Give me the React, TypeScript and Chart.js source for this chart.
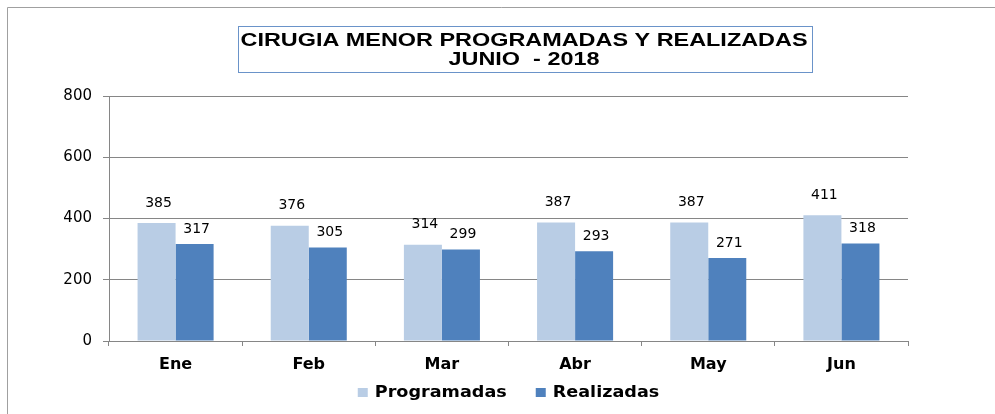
import React, { useEffect, useRef } from "react";
import { Chart, registerables } from "chart.js";

Chart.register(...registerables);

const categories = ["Ene", "Feb", "Mar", "Abr", "May", "Jun"];
const programadas = [385, 376, 314, 387, 387, 411];
const realizadas = [317, 305, 299, 293, 271, 318];
const seriesNames = ["Programadas", "Realizadas"];
const seriesColors = ["#B9CDE5", "#4F81BD"];
const titleLines = ["CIRUGIA MENOR PROGRAMADAS Y REALIZADAS", "JUNIO  - 2018"];
const yMin = 0;
const yMax = 800;
const yStep = 200;

const GRID = "#868686";

function drawStretched(ctx: CanvasRenderingContext2D, text: string, x: number, y: number, sx: number, align: CanvasTextAlign) {
  ctx.save();
  ctx.translate(x, y);
  ctx.scale(sx, 1);
  ctx.textAlign = align;
  ctx.fillText(text, 0, 0);
  ctx.restore();
}

const decorPlugin = {
  id: "decor",
  beforeDraw(chart: any) {
    const ctx: CanvasRenderingContext2D = chart.ctx;
    ctx.save();
    ctx.fillStyle = "#ffffff";
    ctx.fillRect(0, 0, chart.width, chart.height);
    ctx.strokeStyle = "#a0a0a0";
    ctx.lineWidth = 1;
    ctx.beginPath();
    ctx.moveTo(7.5, chart.height + 2);
    ctx.lineTo(7.5, 7.5);
    ctx.lineTo(chart.width + 2, 7.5);
    ctx.stroke();
    ctx.restore();
  },
  afterDraw(chart: any) {
    const ctx: CanvasRenderingContext2D = chart.ctx;
    const area = chart.chartArea;
    ctx.save();
    // title box
    ctx.strokeStyle = "#6a93c9";
    ctx.lineWidth = 1;
    ctx.strokeRect(238.5, 26.5, 574, 46);
    ctx.fillStyle = "#000";
    ctx.font = "bold 19px 'Liberation Sans', Arial, sans-serif";
    ctx.textBaseline = "middle";
    const w0 = ctx.measureText(titleLines[0]).width;
    const sx = 567 / w0;
    const cx = 524;
    drawStretched(ctx, titleLines[0], cx, 40.5, sx, "center");
    drawStretched(ctx, titleLines[1], cx, 59.5, sx, "center");

    // legend
    ctx.font = "bold 16px 'DejaVu Sans', sans-serif";
    const lsx = 1.1;
    const box = 10;
    const gapBox = 7;
    const gapItem = 29;
    const widths = seriesNames.map((n) => ctx.measureText(n).width * lsx);
    const total = widths.reduce((a, w) => a + box + gapBox + w, 0) + gapItem * (seriesNames.length - 1);
    let x = (area.left + area.right) / 2 - total / 2;
    const ly = 392.5;
    seriesNames.forEach((n, i) => {
      ctx.fillStyle = seriesColors[i];
      ctx.fillRect(x, ly - 4.5, box, 9);
      ctx.fillStyle = "#000";
      drawStretched(ctx, n, x + box + gapBox, ly, lsx, "left");
      x += box + gapBox + widths[i] + gapItem;
    });
    ctx.restore();
  },
  afterDatasetsDraw(chart: any) {
    const ctx: CanvasRenderingContext2D = chart.ctx;
    ctx.save();
    ctx.font = "14px 'DejaVu Sans', sans-serif";
    ctx.fillStyle = "#000";
    ctx.textAlign = "center";
    ctx.textBaseline = "middle";
    const offsets = [20, 15];
    chart.data.datasets.forEach((ds: any, di: number) => {
      const meta = chart.getDatasetMeta(di);
      meta.data.forEach((el: any, i: number) => {
        ctx.fillText(String(ds.data[i]), el.x + 2, el.y - offsets[di]);
      });
    });
    ctx.restore();
  },
};

export default function App() {
  const ref = useRef<HTMLCanvasElement | null>(null);
  useEffect(() => {
    if (!ref.current) return;
    const chart = new Chart(ref.current, {
      type: "bar",
      data: {
        labels: categories,
        datasets: [
          { label: seriesNames[0], data: programadas, backgroundColor: seriesColors[0], borderWidth: 0 },
          { label: seriesNames[1], data: realizadas, backgroundColor: seriesColors[1], borderWidth: 0 },
        ],
      },
      options: {
        responsive: false,
        animation: false,
        devicePixelRatio: 1,
        layout: { padding: { top: 96, right: 87, left: 0, bottom: 0 } },
        datasets: { bar: { categoryPercentage: 0.571, barPercentage: 1 } },
        plugins: { legend: { display: false }, title: { display: false }, tooltip: { enabled: false } },
        scales: {
          x: {
            grid: { display: true, offset: true, drawOnChartArea: false, drawTicks: true, tickLength: 5, color: GRID },
            border: { display: true, color: GRID },
            ticks: { color: "#000", padding: 9, font: { family: "'DejaVu Sans', sans-serif", weight: "bold", size: 16 } },
            afterFit: (s: any) => { s.height = 73; },
          },
          y: {
            min: yMin,
            max: yMax,
            ticks: { stepSize: yStep, color: "#000", padding: 11, font: { family: "'DejaVu Sans', sans-serif", size: 15 } },
            grid: { color: GRID, tickLength: 6 },
            border: { display: true, color: GRID },
            afterFit: (s: any) => { s.width = 109; },
          },
        },
      } as any,
      plugins: [decorPlugin],
    });
    return () => chart.destroy();
  }, []);
  return (
    <div style={{ position: "absolute", left: 0, top: 0, width: 995, height: 414, overflow: "hidden", background: "#fff" }}>
      <canvas ref={ref} width={995} height={414} style={{ display: "block" }} />
    </div>
  );
}
